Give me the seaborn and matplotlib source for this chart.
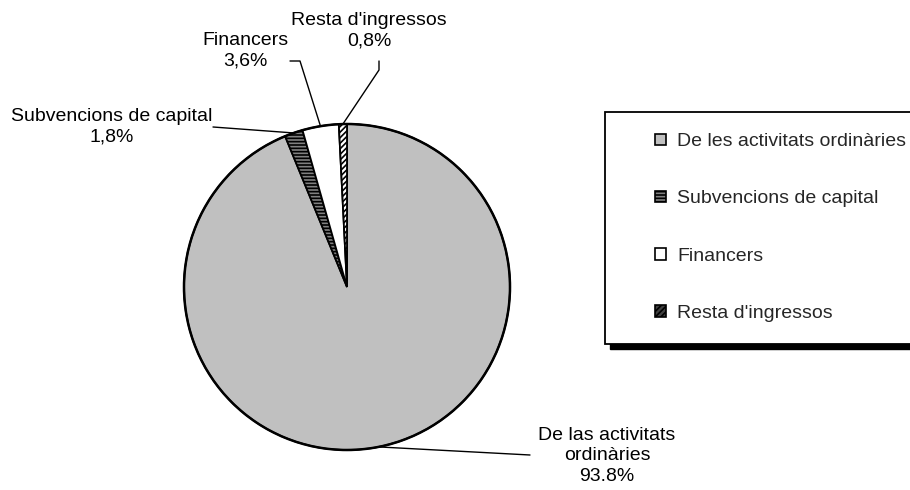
import numpy as np
import seaborn as sns
import matplotlib.pyplot as plt
from matplotlib.patches import Patch, Rectangle

# Data
categories = ["De les activitats ordinàries", "Subvencions de capital",
              "Financers", "Resta d'ingressos"]
values = [93.8, 1.8, 3.6, 0.8]
pie_labels = ["De las activitats\nordinàries\n93.8%", "Subvencions de capital\n1,8%",
              "Financers\n3,6%", "Resta d'ingressos\n0,8%"]
colors = ["#c0c0c0", "#808080", "#ffffff", "#ffffff"]
hatches = [None, "-----", None, "//////"]

sns.set_theme(style="white")
plt.rcParams['font.family'] = ['Liberation Sans', 'DejaVu Sans']
plt.rcParams['hatch.linewidth'] = 1.2

W, H = 910, 490
fig = plt.figure(figsize=(W / 100, H / 100), dpi=100)
ax = fig.add_axes([0, 0, 1, 1])

def Y(y):
    return H - y

cx, cy, r = 347, Y(287), 163
wedges, _ = ax.pie(values, colors=colors, startangle=90, counterclock=False,
                   center=(cx, cy), radius=r, frame=True,
                   wedgeprops=dict(edgecolor="black", linewidth=1.3))
for w, h in zip(wedges, hatches):
    if h:
        w.set_hatch(h)
# thicker outer outline
circ = plt.Circle((cx, cy), r, fill=False, edgecolor="black", linewidth=1.8, zorder=5)
ax.add_patch(circ)
ax.set_xlim(0, W)
ax.set_ylim(0, H)
ax.axis("off")

def edge_point(w):
    mid = np.deg2rad((w.theta1 + w.theta2) / 2)
    return cx + r * np.cos(mid), cy + r * np.sin(mid)

# label positions (pixels, top-left origin) and leader elbows
label_pos = [(607, 456), (112, 127), (245, 51), (369, 31)]
elbows = [[(530, 455)], [(213, 127)], [(290, 61), (300, 61)], [(379, 61), (379, 70)]]

fs = 14
for w, lab, (tx, ty), elb in zip(wedges, pie_labels, label_pos, elbows):
    ax.text(tx, Y(ty), lab, ha="center", va="center", fontsize=fs,
            multialignment="center", linespacing=1.25, color="black")
    ex, ey = edge_point(w)
    pts = [(x, Y(y)) for x, y in elb] + [(ex, ey)]
    xs, ys = zip(*pts)
    ax.plot(xs, ys, color="black", linewidth=1.0, zorder=6)

# legend frame with shadow
bx0, by0, bx1, by1 = 605, 112, 925, 344
fig.patches.append(Rectangle(((bx0 + 5) / W, 1 - (by1 + 5) / H), (bx1 - bx0) / W,
                             (by1 - by0) / H, transform=fig.transFigure,
                             facecolor="black", edgecolor="black", zorder=1))
fig.patches.append(Rectangle((bx0 / W, 1 - by1 / H), (bx1 - bx0) / W,
                             (by1 - by0) / H, transform=fig.transFigure,
                             facecolor="white", edgecolor="black", linewidth=1.3,
                             zorder=2))

handles = [Patch(facecolor=c, edgecolor="black", hatch=h, linewidth=1.2)
           for c, h in zip(colors, hatches)]
handles[3].set_facecolor("#404040")
leg = fig.legend(handles, categories, loc="center left",
                 bbox_to_anchor=(655 / W, 1 - 227.5 / H), frameon=False,
                 fontsize=fs, handlelength=0.55, handleheight=0.55,
                 handletextpad=0.6, labelspacing=2.06, borderpad=0,
                 borderaxespad=0)
leg.set_zorder(3)

fig.savefig("out.png", dpi=100)
